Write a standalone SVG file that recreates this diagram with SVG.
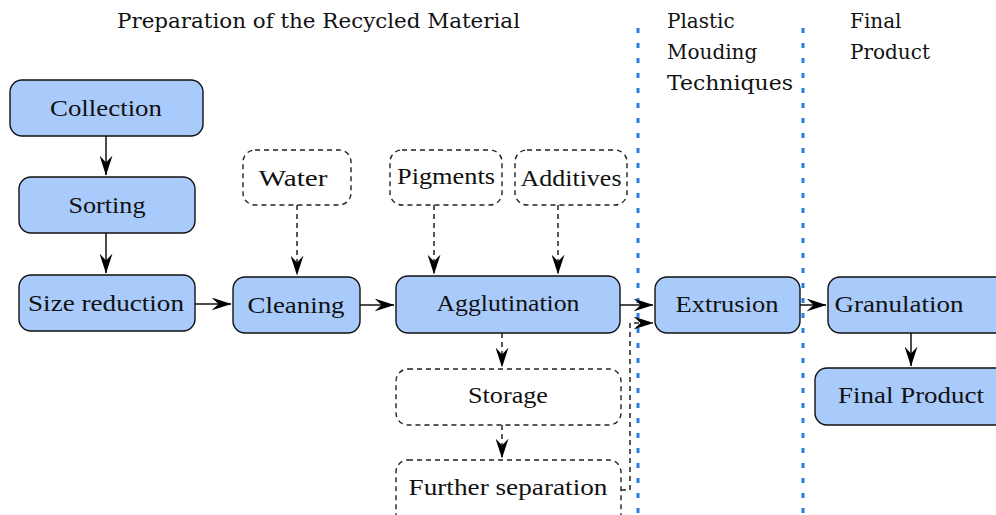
<svg xmlns="http://www.w3.org/2000/svg" width="996" height="515" viewBox="0 0 996 515">
<style>
.box{fill:#a9cbfb;stroke:#111;stroke-width:1.4}
.dbox{fill:#fff;stroke:#222;stroke-width:1.4;stroke-dasharray:5,4}
.lbl{font-family:"Liberation Serif","Times New Roman","DejaVu Serif",serif;font-size:23px;fill:#111;text-anchor:middle}
.hdr{font-family:"DejaVu Serif",serif;font-size:20px;fill:#111}
.sep{stroke:#2a7be4;stroke-width:3;stroke-dasharray:5,10;fill:none}
.c{stroke:#111;stroke-width:1.5;fill:none}
.cd{stroke:#222;stroke-width:1.5;fill:none;stroke-dasharray:5,4}
</style>
<defs>
<marker id="ah" viewBox="0 0 20 13" refX="19.5" refY="6.5" markerWidth="20" markerHeight="13" markerUnits="userSpaceOnUse" orient="auto">
<path d="M0,0 L20,6.5 L0,13 L7,6.5 z" fill="#000"/>
</marker>
</defs>
<rect width="996" height="515" fill="#fff"/>
<g id="headers">
<text class="hdr" x="117" y="28" textLength="403" lengthAdjust="spacingAndGlyphs">Preparation of the Recycled Material</text>
<text class="hdr" x="667" y="28">Plastic</text>
<text class="hdr" x="667" y="59">Mouding</text>
<text class="hdr" x="667" y="90" textLength="126" lengthAdjust="spacingAndGlyphs">Techniques</text>
<text class="hdr" x="850" y="28">Final</text>
<text class="hdr" x="850" y="59">Product</text>
</g>
<g id="separators">
<line class="sep" x1="638" y1="28" x2="638" y2="515"/>
<line class="sep" x1="803" y1="28" x2="803" y2="515"/>
</g>
<g id="collection"><rect class="box" x="10" y="80" width="193" height="56" rx="12"/><text class="lbl" x="106" y="116" textLength="112" lengthAdjust="spacingAndGlyphs">Collection</text></g>
<g id="sorting"><rect class="box" x="19" y="177" width="176" height="56" rx="12"/><text class="lbl" x="107" y="213" textLength="77" lengthAdjust="spacingAndGlyphs">Sorting</text></g>
<g id="size-reduction"><rect class="box" x="19" y="275" width="176" height="56" rx="12"/><text class="lbl" x="106" y="311" textLength="156" lengthAdjust="spacingAndGlyphs">Size reduction</text></g>
<g id="cleaning"><rect class="box" x="233" y="277" width="127" height="56" rx="12"/><text class="lbl" x="296" y="313" textLength="97" lengthAdjust="spacingAndGlyphs">Cleaning</text></g>
<g id="water"><rect class="dbox" x="243" y="150" width="108" height="55" rx="12"/><text class="lbl" x="293" y="186" textLength="69" lengthAdjust="spacingAndGlyphs">Water</text></g>
<g id="pigments"><rect class="dbox" x="390" y="150" width="112" height="55" rx="12"/><text class="lbl" x="446" y="184" textLength="98" lengthAdjust="spacingAndGlyphs">Pigments</text></g>
<g id="additives"><rect class="dbox" x="515" y="150" width="112" height="55" rx="12"/><text class="lbl" x="571" y="186" textLength="101" lengthAdjust="spacingAndGlyphs">Additives</text></g>
<g id="agglutination"><rect class="box" x="396" y="276" width="224" height="57" rx="12"/><text class="lbl" x="508" y="311" textLength="143" lengthAdjust="spacingAndGlyphs">Agglutination</text></g>
<g id="storage"><rect class="dbox" x="396" y="369" width="225" height="56" rx="12"/><text class="lbl" x="508" y="403" textLength="80" lengthAdjust="spacingAndGlyphs">Storage</text></g>
<g id="further-separation"><rect class="dbox" x="396" y="460" width="225" height="70" rx="12"/><text class="lbl" x="508" y="495" textLength="199" lengthAdjust="spacingAndGlyphs">Further separation</text></g>
<g id="extrusion"><rect class="box" x="655" y="277" width="145" height="56" rx="12"/><text class="lbl" x="727" y="312" textLength="103" lengthAdjust="spacingAndGlyphs">Extrusion</text></g>
<g id="granulation"><rect class="box" x="828" y="277" width="180" height="56" rx="12"/><text class="lbl" x="899" y="312" textLength="129" lengthAdjust="spacingAndGlyphs">Granulation</text></g>
<g id="final-product"><rect class="box" x="815" y="368" width="193" height="57" rx="12"/><text class="lbl" x="911" y="403" textLength="146" lengthAdjust="spacingAndGlyphs">Final Product</text></g>
<g id="connectors">
<line class="c" x1="106" y1="136" x2="106" y2="175" marker-end="url(#ah)"/>
<line class="c" x1="106" y1="233" x2="106" y2="273" marker-end="url(#ah)"/>
<line class="c" x1="195" y1="304" x2="231" y2="304" marker-end="url(#ah)"/>
<line class="c" x1="360" y1="305" x2="394" y2="305" marker-end="url(#ah)"/>
<line class="cd" x1="297" y1="205" x2="297" y2="275" marker-end="url(#ah)"/>
<line class="cd" x1="434" y1="205" x2="434" y2="274" marker-end="url(#ah)"/>
<line class="cd" x1="558" y1="205" x2="558" y2="274" marker-end="url(#ah)"/>
<line class="c" x1="620" y1="305" x2="653" y2="305" marker-end="url(#ah)"/>
<line class="cd" x1="502" y1="333" x2="502" y2="367" marker-end="url(#ah)"/>
<line class="cd" x1="502" y1="425" x2="502" y2="458" marker-end="url(#ah)"/>
<path class="cd" d="M621,490 H630 V323 H653" marker-end="url(#ah)"/>
<line class="c" x1="800" y1="305" x2="826" y2="305" marker-end="url(#ah)"/>
<line class="c" x1="911" y1="333" x2="911" y2="366" marker-end="url(#ah)"/>
</g>
</svg>
